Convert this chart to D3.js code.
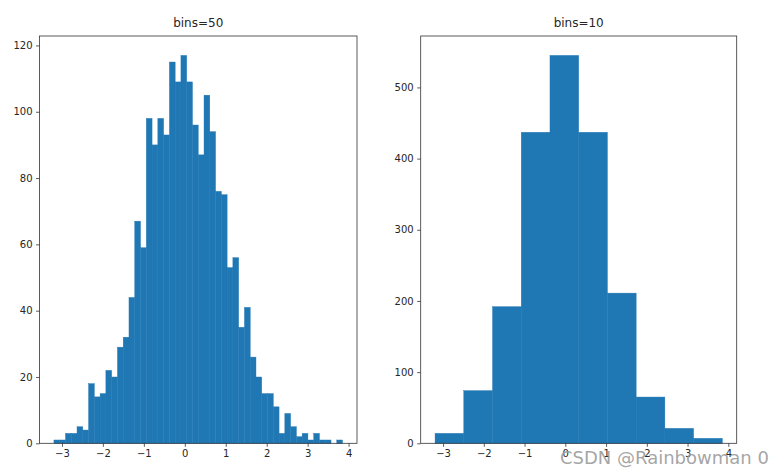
<!DOCTYPE html>
<html lang="en">

<head>
    <meta charset="UTF-8">
    <title>Histogram bins</title>

    <script src="https://d3js.org/d3.v7.min.js"></script>

    <style>
        body {
            margin: 0;
            background: white;
        }

        text {
            font-family: "DejaVu Sans", sans-serif;
        }

        .tick text {
            font-size: 10px;
            fill: #262626;
        }

        .title {
            font-size: 12px;
            fill: #262626;
        }

        .mark {
            font-size: 18px;
            fill: #9a9a9a;
            fill-opacity: 0.9;
        }
    </style>

</head>

<body>
    <svg width="782" height="476"></svg>

    <script>
        // sample range of the data (both histograms share it)
        const dataMin = -3.196;
        const dataMax = 3.853;

        // counts for bins=50
        const counts50 = [1, 1, 3, 3, 5, 4, 18, 14, 15, 22,
            20, 29, 32, 44, 67, 59, 98, 90, 98, 93,
            115, 109, 117, 109, 96, 87, 105, 94, 76, 75,
            53, 56, 35, 41, 26, 20, 15, 15, 11, 3,
            9, 5, 2, 3, 1, 3, 1, 1, 0, 1];

        // counts for bins=10
        const counts10 = [14, 74, 192, 437, 545, 437, 211, 65, 21, 7];

        const xTicks = [-3, -2, -1, 0, 1, 2, 3, 4];
        const yTicks50 = [0, 20, 40, 60, 80, 100, 120];
        const yTicks10 = [0, 100, 200, 300, 400, 500];

        const svg = d3.select("svg");
        const fmt = d => d < 0 ? "\u2212" + Math.abs(d) : String(d);

        function histPanel(counts, yTicks, left, right, title) {
            const top = 36, bottom = 443.3;
            const n = counts.length;
            const w = (dataMax - dataMin) / n;
            const bins = counts.map((c, i) => ({ x0: dataMin + i * w, x1: dataMin + (i + 1) * w, c: c }));

            const pad = (dataMax - dataMin) * 0.05;
            const x = d3.scaleLinear().domain([dataMin - pad, dataMax + pad]).range([left, right]);
            const y = d3.scaleLinear().domain([0, d3.max(counts) * 1.05]).range([bottom, top]);

            const g = svg.append("g");

            g.append("g").selectAll("rect")
                .data(bins.filter(d => d.c > 0))
                .enter()
                .append("rect")
                .attr("x", d => x(d.x0))
                .attr("width", d => x(d.x1) - x(d.x0))
                .attr("y", d => y(d.c))
                .attr("height", d => y(0) - y(d.c))
                .attr("fill", "#1f77b4")
                .attr("stroke", "#1f77b4")
                .attr("stroke-width", 0.4);

            // frame
            g.append("rect")
                .attr("x", left).attr("y", top)
                .attr("width", right - left).attr("height", bottom - top)
                .attr("fill", "none")
                .attr("stroke", "#333")
                .attr("stroke-width", 0.8);

            const xAxis = g.append("g")
                .attr("transform", `translate(0,${bottom})`)
                .call(d3.axisBottom(x).tickValues(xTicks).tickFormat(fmt).tickSize(3.5).tickPadding(3.5));
            const yAxis = g.append("g")
                .attr("transform", `translate(${left},0)`)
                .call(d3.axisLeft(y).tickValues(yTicks).tickFormat(fmt).tickSize(3.5).tickPadding(3.5));

            [xAxis, yAxis].forEach(a => {
                a.select(".domain").remove();
                a.selectAll(".tick line").attr("stroke", "#333").attr("stroke-width", 0.8);
                a.selectAll(".tick text").attr("font-family", null).attr("font-size", null);
            });

            g.append("text")
                .attr("class", "title")
                .attr("x", (left + right) / 2)
                .attr("y", 27)
                .attr("text-anchor", "middle")
                .text(title);
        }

        histPanel(counts50, yTicks50, 39.5, 357, "bins=50");
        histPanel(counts10, yTicks10, 420.7, 736.7, "bins=10");

        // watermark, overlapping the right panel's tick labels as in the original
        svg.append("text")
            .attr("class", "mark")
            .attr("x", 560)
            .attr("y", 464)
            .text("CSDN @Rainbowman 0");
    </script>
</body>

</html>
